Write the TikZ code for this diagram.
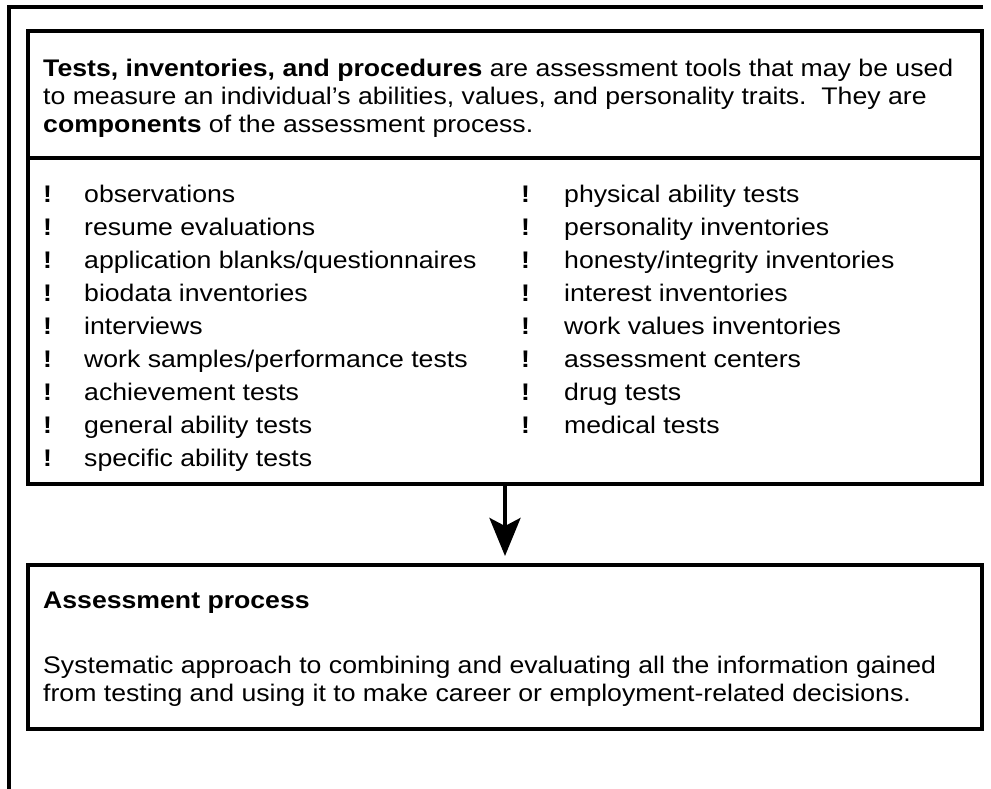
\documentclass[tikz,border=0pt]{standalone}
\usepackage{fontspec}
\setmainfont{Liberation Sans}[FakeStretch=1.11]
\usetikzlibrary{arrows.meta}

\tikzset{
  panel/.style={draw, line width=4pt, minimum width=954pt, inner sep=0pt},
  txt/.style={anchor=base west, inner sep=0pt, font=\fontsize{24}{28}\selectfont},
  bang/.style={txt, font=\fontsize{24}{28}\selectfont\bfseries},
}

\begin{document}
\begin{tikzpicture}[x=1pt,y=-1pt]
                \useasboundingbox (0,0) rectangle (991,789);
                % frame round the page
                \coordinate (frametr) at (983,7);
                \coordinate (frametl) at (9,7);
                \coordinate (framebl) at (9,795);
                \draw[line width=4pt] (frametr) -- (frametl) -- (framebl);
                % the two boxes
                \node[panel, minimum height=453pt] (tools) at (505,257.5) {};
                \node[panel, minimum height=164pt] (process) at (505,647) {};
                \coordinate (divl) at (28,158);
                \coordinate (divr) at (982,158);
                \draw[line width=4pt] (divl) -- (divr);
                \draw[line width=4pt, -{Stealth[length=38pt,width=31pt,inset=8pt]}] (tools.south) -- ([yshift=7pt]process.north);
                % texts of the top box
                \node[txt] (intro1) at (43,77) {\textbf{Tests, inventories, and procedures} are assessment tools that may be used};
                \node[txt] (intro2) at (43,105) {to measure an individual’s abilities, values, and personality traits.\ \ They are};
                \node[txt] (intro3) at (43,133) {\textbf{components} of the assessment process.};
                \foreach \entry [count=\i] in {observations, resume evaluations, {application blanks/questionnaires}, biodata inventories, interviews, {work samples/performance tests}, achievement tests, general ability tests, specific ability tests}{
                    \node[bang] (lbang\i) at (43,169+33*\i) {!};
                    \node[txt] (left\i) at (84,169+33*\i) {\entry};
                }
                \foreach \entry [count=\i] in {physical ability tests, personality inventories, {honesty/integrity inventories}, interest inventories, work values inventories, assessment centers, drug tests, medical tests}{
                    \node[bang] (rbang\i) at (521,169+33*\i) {!};
                    \node[txt] (right\i) at (564,169+33*\i) {\entry};
                }
                % texts of the bottom box
                \node[txt] (ptitle) at (43,608) {\textbf{Assessment process}};
                \node[txt] (pdesc1) at (43,673) {Systematic approach to combining and evaluating all the information gained};
                \node[txt] (pdesc2) at (43,701) {from testing and using it to make career or employment-related decisions.};
            \end{tikzpicture}
\end{document}
